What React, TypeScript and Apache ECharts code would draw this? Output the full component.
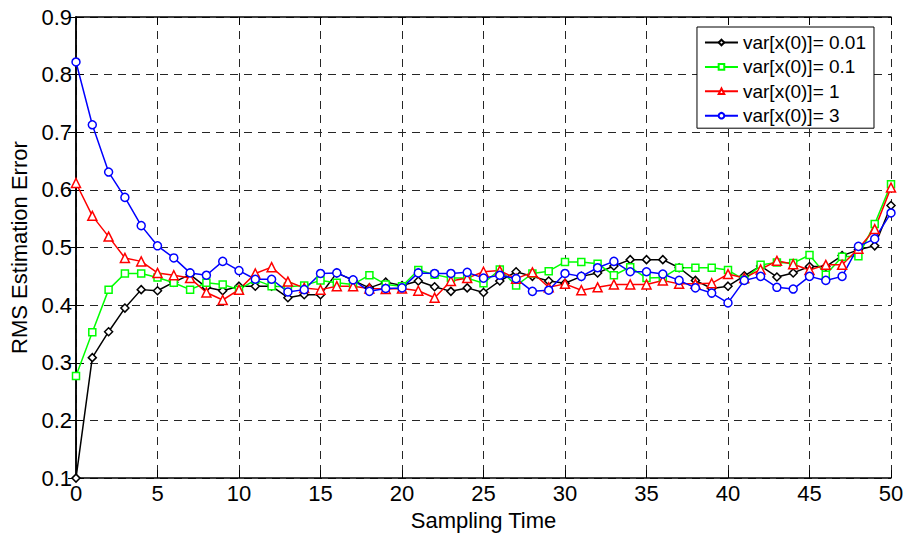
import React, { useEffect, useRef } from "react";
import * as echarts from "echarts";

const xValues: number[] = Array.from({ length: 51 }, (_, i) => i);

const seriesNames = ["var[x(0)]= 0.01", "var[x(0)]= 0.1", "var[x(0)]= 1", "var[x(0)]= 3"];

const var001: number[] = [
  0.100, 0.309, 0.354, 0.395, 0.427, 0.425, 0.440, 0.453, 0.431, 0.425,
  0.433, 0.433, 0.433, 0.413, 0.418, 0.418, 0.456, 0.443, 0.430, 0.440,
  0.434, 0.442, 0.432, 0.424, 0.430, 0.422, 0.442, 0.458, 0.450, 0.442,
  0.438, 0.450, 0.456, 0.468, 0.479, 0.479, 0.479, 0.465, 0.443, 0.429,
  0.433, 0.451, 0.468, 0.449, 0.456, 0.467, 0.467, 0.486, 0.496, 0.503,
  0.573,
];

const var01: number[] = [
  0.277, 0.353, 0.427, 0.455, 0.455, 0.448, 0.439, 0.427, 0.439, 0.436,
  0.427, 0.444, 0.433, 0.432, 0.434, 0.443, 0.439, 0.436, 0.452, 0.436,
  0.433, 0.461, 0.453, 0.447, 0.447, 0.438, 0.462, 0.434, 0.455, 0.459,
  0.475, 0.475, 0.472, 0.452, 0.466, 0.447, 0.448, 0.465, 0.465, 0.465,
  0.461, 0.444, 0.470, 0.474, 0.473, 0.487, 0.453, 0.484, 0.485, 0.541,
  0.610,
];

const var1: number[] = [
  0.612, 0.555, 0.519, 0.482, 0.476, 0.456, 0.452, 0.447, 0.422, 0.409,
  0.427, 0.455, 0.466, 0.441, 0.430, 0.427, 0.433, 0.433, 0.429, 0.428,
  0.429, 0.425, 0.413, 0.442, 0.447, 0.458, 0.460, 0.446, 0.457, 0.431,
  0.437, 0.426, 0.431, 0.436, 0.436, 0.436, 0.443, 0.437, 0.437, 0.438,
  0.454, 0.447, 0.462, 0.477, 0.471, 0.461, 0.470, 0.470, 0.498, 0.532,
  0.604,
];

const var3: number[] = [
  0.822, 0.713, 0.631, 0.587, 0.538, 0.503, 0.482, 0.456, 0.452, 0.476,
  0.460, 0.445, 0.445, 0.423, 0.427, 0.455, 0.456, 0.444, 0.424, 0.429,
  0.430, 0.456, 0.455, 0.455, 0.457, 0.447, 0.452, 0.446, 0.424, 0.426,
  0.455, 0.450, 0.465, 0.476, 0.458, 0.458, 0.454, 0.443, 0.430, 0.421,
  0.404, 0.443, 0.450, 0.431, 0.428, 0.450, 0.443, 0.450, 0.502, 0.515,
  0.560,
];

const seriesData = [var001, var01, var1, var3];
const seriesColors = ["#000000", "#00ff00", "#ff0000", "#0000ff"];
const seriesSymbols = ["diamond", "rect", "triangle", "circle"];
const seriesSymbolSizes = [8, 7, 9, 8];

const FONT = "'Liberation Sans', Arial, sans-serif";

export default function App() {
  const ref = useRef<HTMLDivElement>(null);
  useEffect(() => {
    if (!ref.current) return;
    const chart = echarts.init(ref.current, null, { renderer: "svg" });
    const axisLine = { show: true, lineStyle: { color: "#000", width: 1.5 } };
    const tick = { show: true, inside: true, length: 8, lineStyle: { color: "#000", width: 1 } };
    const grid = { show: true, lineStyle: { color: "#262626", width: 1, type: [8, 6] as any } };
    const option: any = {
      animation: false,
      backgroundColor: "#fff",
      textStyle: { fontFamily: FONT },
      grid: { left: 73.5, right: 16, top: 17, bottom: 53, containLabel: false },
      legend: {
        orient: "vertical",
        right: 33,
        top: 27,
        backgroundColor: "#fff",
        borderColor: "#000",
        borderWidth: 1,
        borderRadius: 0,
        padding: [6, 8, 3, 7],
        itemWidth: 33,
        itemHeight: 7,
        itemGap: 5.4,
        textStyle: { fontFamily: FONT, fontSize: 19, color: "#000" },
        data: seriesNames,
      },
      xAxis: [
        {
          type: "value",
          min: 0,
          max: 50,
          interval: 5,
          name: "Sampling Time",
          nameLocation: "middle",
          nameGap: 26,
          nameTextStyle: { fontFamily: FONT, fontSize: 22, color: "#000" },
          axisLine,
          axisTick: tick,
          axisLabel: { show: true, margin: 4, fontFamily: FONT, fontSize: 22, color: "#000" },
          splitLine: grid,
        },
        {
          type: "value",
          position: "top",
          min: 0,
          max: 50,
          interval: 5,
          axisLine,
          axisTick: tick,
          axisLabel: { show: false },
          splitLine: { show: false },
        },
      ],
      yAxis: [
        {
          type: "value",
          min: 0.1,
          max: 0.9,
          interval: 0.1,
          name: "RMS Estimation Error",
          nameLocation: "middle",
          nameGap: 46,
          nameTextStyle: { fontFamily: FONT, fontSize: 22, color: "#000" },
          axisLine,
          axisTick: tick,
          axisLabel: {
            show: true,
            margin: 4,
            fontFamily: FONT,
            fontSize: 22,
            color: "#000",
            formatter: (v: number) => v.toFixed(1),
          },
          splitLine: grid,
        },
        {
          type: "value",
          position: "right",
          min: 0.1,
          max: 0.9,
          interval: 0.1,
          axisLine,
          axisTick: tick,
          axisLabel: { show: false },
          splitLine: { show: false },
        },
      ],
      series: seriesNames.map((name, i) => ({
        name,
        type: "line",
        xAxisIndex: 0,
        yAxisIndex: 0,
        data: xValues.map((x, j) => [x, seriesData[i][j]]),
        symbol: seriesSymbols[i],
        symbolSize: seriesSymbolSizes[i],
        showAllSymbol: true,
        lineStyle: { color: seriesColors[i], width: 1.5 },
        itemStyle: { color: "#fff", borderColor: seriesColors[i], borderWidth: 1.5 },
        emphasis: { disabled: true },
      })),
    };
    chart.setOption(option);
    return () => chart.dispose();
  }, []);
  return <div ref={ref} style={{ width: 907, height: 536, position: "fixed", left: 0, top: 0 }} />;
}
